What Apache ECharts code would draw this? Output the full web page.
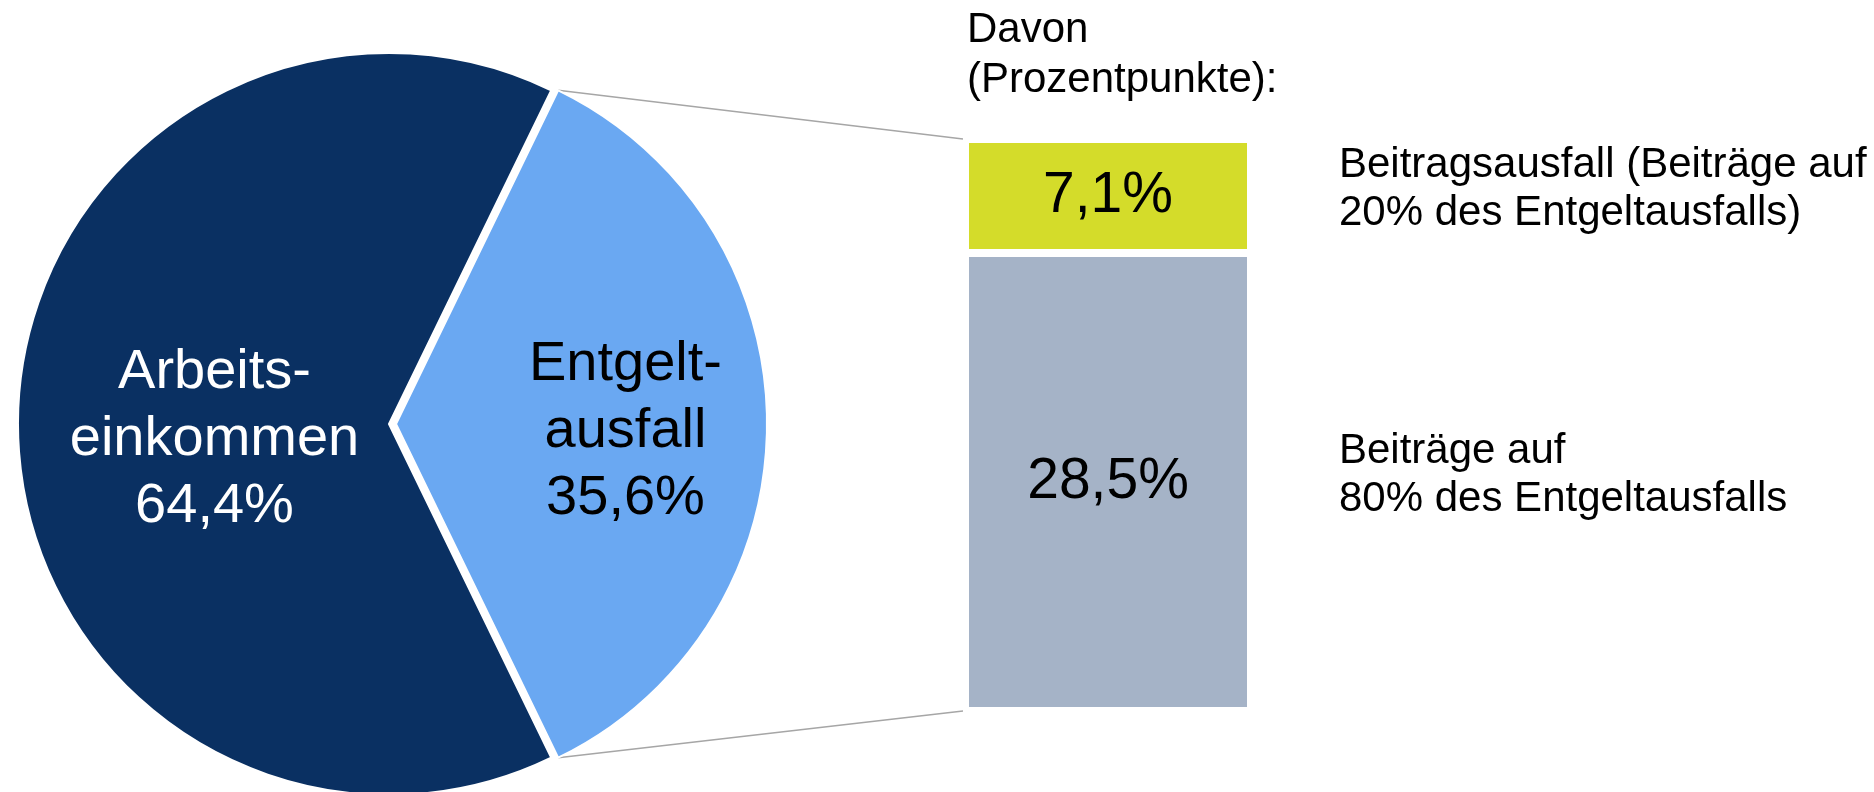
<!DOCTYPE html>
<html>
<head>
<meta charset="utf-8">
<script src="https://cdn.jsdelivr.net/npm/echarts@6/dist/echarts.min.js"></script>
<style>
  html, body { margin: 0; padding: 0; background: #fff; }
  #chart { width: 1874px; height: 792px; }
</style>
</head>
<body>
<div id="chart"></div>
<script>
// pie: share of the total
var pieNames = ['Entgelt-\nausfall', 'Arbeits-\neinkommen'];
var pieValues = [35.6, 64.4];
var pieColors = ['#6aa8f2', '#0a3062'];
var pieLabelColors = ['#000', '#fff'];

// bar: breakdown of Entgeltausfall (bottom first)
var barNames = ['Beiträge auf\n80% des Entgeltausfalls', 'Beitragsausfall (Beiträge auf\n20% des Entgeltausfalls)'];
var barValues = [28.5, 7.1];
var barColors = ['#a5b3c7', '#d4dc2a'];

var FONT = '"Liberation Sans", Arial, sans-serif';
var fmt = function (v) { return v.toFixed(1).replace('.', ',') + '%'; };

var pieCenter = [389, 424];
var pieRadius = 371;
var pieOffset = 7;
var halfAngle = 360 * pieValues[0] / (pieValues[0] + pieValues[1]) / 2;
var barTotal = barValues.reduce(function (a, b) { return a + b; }, 0);

var chart = echarts.init(document.getElementById('chart'));

chart.setOption({
  animation: false,
  grid: { left: 965, width: 286, top: 139, height: 572 },
  xAxis: { type: 'category', data: ['Davon'], show: false },
  yAxis: { type: 'value', min: 0, max: barTotal, show: false },
  series: [
    {
      type: 'pie',
      center: pieCenter,
      radius: pieRadius,
      startAngle: halfAngle,
      clockwise: true,
      selectedMode: 'single',
      selectedOffset: pieOffset,
      emphasis: { disabled: true },
      itemStyle: { borderColor: '#fff', borderWidth: 2 },
      label: {
        position: 'inside',
        fontFamily: FONT,
        fontSize: 56,
        lineHeight: 67,
        formatter: function (p) { return p.name + '\n' + fmt(p.value); }
      },
      labelLayout: function (p) {
        return p.dataIndex === 0 ? { dx: 41, dy: 8 } : { dx: 7, dy: 8 };
      },
      data: pieValues.map(function (v, i) {
        return {
          name: pieNames[i],
          value: v,
          selected: i === 0,
          itemStyle: { color: pieColors[i] },
          label: { color: pieLabelColors[i] }
        };
      })
    }
  ].concat(barValues.map(function (v, i) {
    return {
      type: 'bar',
      stack: 'davon',
      barWidth: '100%',
      data: [v],
      emphasis: { disabled: true },
      itemStyle: { color: barColors[i], borderColor: '#fff', borderWidth: 4 },
      label: {
        show: true,
        position: 'inside',
        fontFamily: FONT,
        fontSize: 57,
        color: '#000',
        formatter: function (p) { return fmt(p.value); }
      }
    };
  }))
});

// connector lines and side texts, placed from the chart's own scales
var rad = halfAngle * Math.PI / 180;
var tipX = pieCenter[0] + pieOffset + pieRadius * Math.cos(rad);
var tipTop = pieCenter[1] - pieRadius * Math.sin(rad);
var tipBottom = pieCenter[1] + pieRadius * Math.sin(rad);
var barTop = chart.convertToPixel({ gridIndex: 0 }, [0, barTotal]);
var barBottom = chart.convertToPixel({ gridIndex: 0 }, [0, 0]);
var barLeft = 963;
var textLeft = 1339;

var graphics = [
  { type: 'line', shape: { x1: tipX, y1: tipTop, x2: barLeft, y2: barTop[1] },
    style: { stroke: '#a6a6a6', lineWidth: 1.5 } },
  { type: 'line', shape: { x1: tipX, y1: tipBottom, x2: barLeft, y2: barBottom[1] },
    style: { stroke: '#a6a6a6', lineWidth: 1.5 } },
  { type: 'text', left: 967, top: 5,
    style: { text: 'Davon\n(Prozentpunkte):', font: '42px ' + FONT, lineHeight: 50, fill: '#000' } }
];

var acc = 0;
barValues.forEach(function (v, i) {
  var mid = chart.convertToPixel({ gridIndex: 0 }, [0, acc + v / 2]);
  acc += v;
  graphics.push({
    type: 'text', x: textLeft, y: mid[1] - 7,
    style: { text: barNames[i], font: '42px ' + FONT, lineHeight: 48, fill: '#000', verticalAlign: 'middle' }
  });
});

chart.setOption({ graphic: graphics });
</script>
</body>
</html>
